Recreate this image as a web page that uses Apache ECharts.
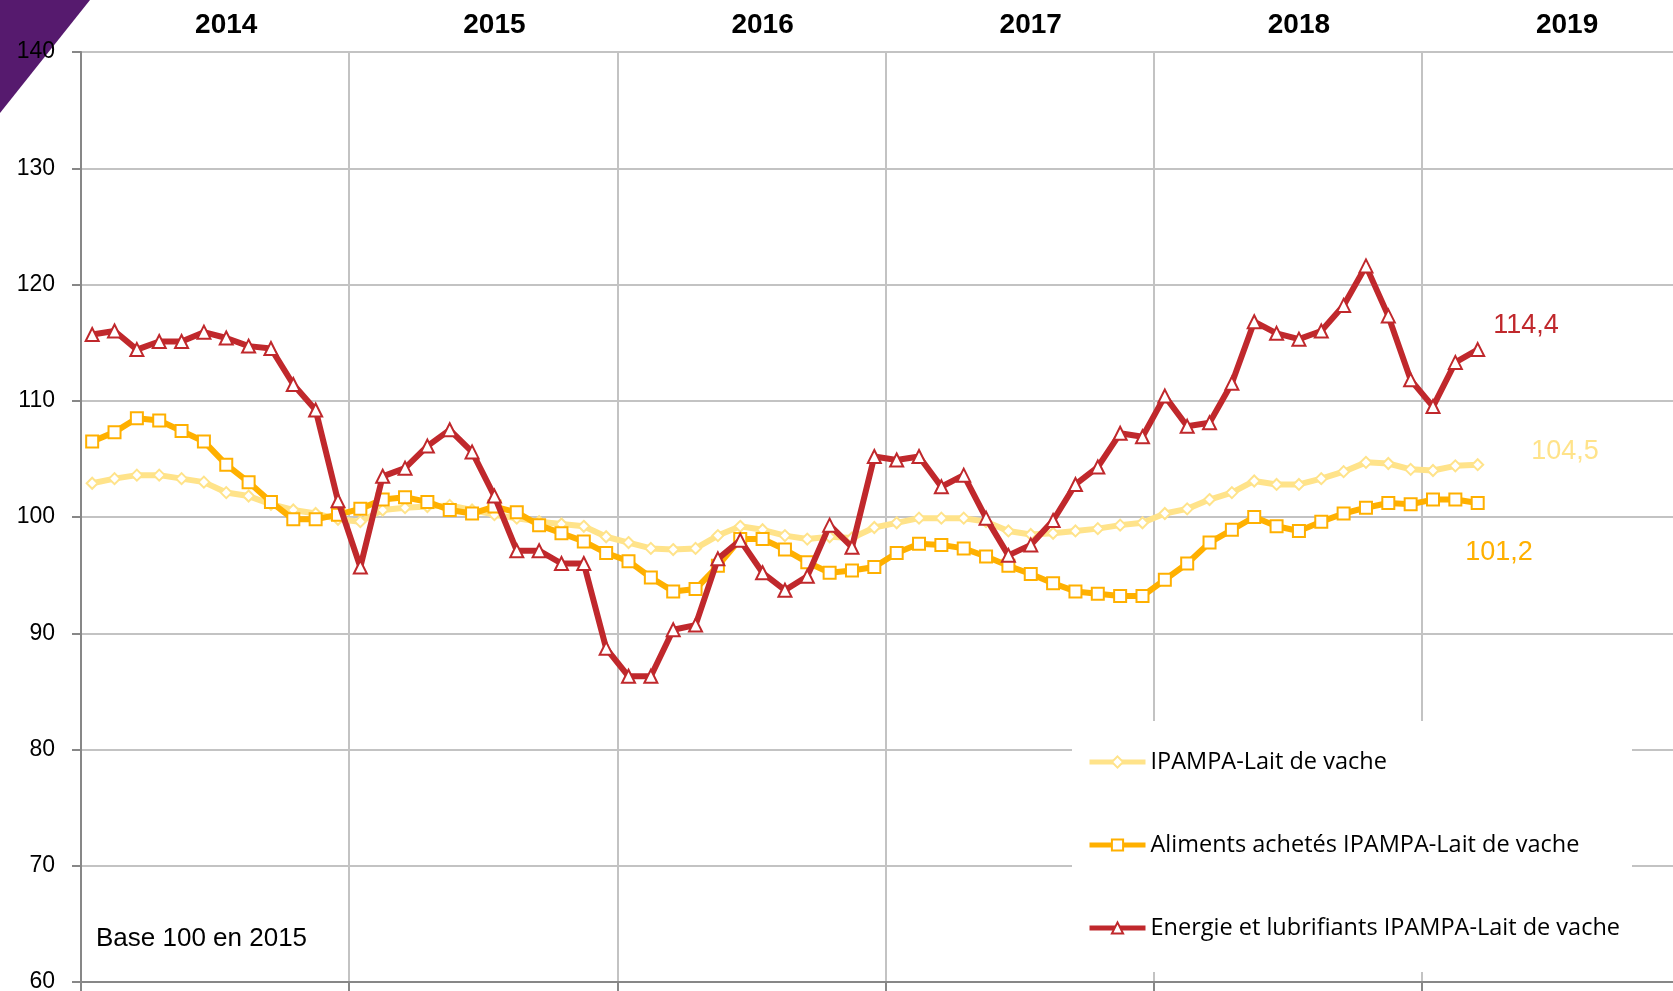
<!DOCTYPE html>
<html>
<head>
<meta charset="utf-8">
<script src="https://cdn.jsdelivr.net/npm/echarts@6/dist/echarts.min.js"></script>
<style>
  html, body { margin: 0; padding: 0; background: #fff; }
  #chart { width: 1673px; height: 991px; }
</style>
</head>
<body>
<div id="chart"></div>
<script>
// years shown on the top axis, one category per month
var years = ['2014', '2015', '2016', '2017', '2018', '2019']
var monthNames = ['01', '02', '03', '04', '05', '06', '07', '08', '09', '10', '11', '12']

var seriesNames = [
  'IPAMPA-Lait de vache',
  'Aliments achetés IPAMPA-Lait de vache',
  'Energie et lubrifiants IPAMPA-Lait de vache'
]

// jan 2014 -> mar 2019, base 100 en 2015
var ipampaLait = [
  102.9, 103.3, 103.6, 103.6, 103.3, 103.0, 102.1, 101.8, 101.1, 100.6, 100.3, 99.8,
  99.6, 100.6, 100.8, 100.9, 101.0, 100.6, 100.2, 99.9, 99.6, 99.4, 99.2, 98.3,
  97.8, 97.3, 97.2, 97.3, 98.4, 99.2, 98.9, 98.4, 98.1, 98.3, 98.2, 99.1,
  99.5, 99.9, 99.9, 99.9, 99.6, 98.8, 98.5, 98.6, 98.8, 99.0, 99.3, 99.5,
  100.3, 100.7, 101.5, 102.1, 103.1, 102.8, 102.8, 103.3, 103.9, 104.7, 104.6, 104.1,
  104.0, 104.4, 104.5
]
var alimentsAchetes = [
  106.5, 107.3, 108.5, 108.3, 107.4, 106.5, 104.5, 103.0, 101.3, 99.8, 99.8, 100.2,
  100.7, 101.5, 101.7, 101.3, 100.6, 100.3, 100.9, 100.4, 99.3, 98.6, 97.9, 96.9,
  96.2, 94.8, 93.6, 93.8, 95.8, 98.1, 98.1, 97.2, 96.1, 95.2, 95.4, 95.7,
  96.9, 97.7, 97.6, 97.3, 96.6, 95.8, 95.1, 94.3, 93.6, 93.4, 93.2, 93.2,
  94.6, 96.0, 97.8, 98.9, 100.0, 99.2, 98.8, 99.6, 100.3, 100.8, 101.2, 101.1,
  101.5, 101.5, 101.2
]
var energieLubrifiants = [
  115.7, 116.0, 114.4, 115.1, 115.1, 115.9, 115.4, 114.7, 114.5, 111.4, 109.2, 101.4,
  95.7, 103.5, 104.2, 106.1, 107.5, 105.6, 101.8, 97.1, 97.1, 96.0, 96.0, 88.7,
  86.3, 86.3, 90.3, 90.7, 96.4, 98.0, 95.2, 93.7, 94.9, 99.3, 97.4, 105.2,
  104.9, 105.2, 102.6, 103.6, 99.9, 96.7, 97.6, 99.7, 102.8, 104.3, 107.2, 106.9,
  110.4, 107.8, 108.1, 111.5, 116.8, 115.8, 115.3, 116.0, 118.2, 121.6, 117.3, 111.8,
  109.5, 113.3, 114.4
]

var yTicks = { min: 60, max: 140, step: 10 }

var months = []
years.forEach(function (y) {
  monthNames.forEach(function (m) { months.push(y + '-' + m) })
})

var colors = ['#ffe38a', '#ffb000', '#c0282c']
var symbols = ['diamond', 'rect', 'triangle']
var symbolSizes = [11, 12, 13]
var values = [ipampaLait, alimentsAchetes, energieLubrifiants]

var lastLabel = function (arr) {
  return arr[arr.length - 1].toFixed(1).replace('.', ',')
}

var chart = echarts.init(document.getElementById('chart'), null, {renderer: 'canvas'})

var series = seriesNames.map(function (name, k) {
  return {
    name: name,
    type: 'line',
    xAxisIndex: 0,
    data: values[k],
    symbol: symbols[k],
    symbolSize: symbolSizes[k],
    showAllSymbol: true,
    z: 2 + k,
    lineStyle: { color: colors[k], width: 6 },
    itemStyle: { color: '#fff', borderColor: colors[k], borderWidth: 2 },
    emphasis: { disabled: true },
    animation: false
  }
})

var option = {
  animation: false,
  backgroundColor: '#fff',
  grid: {
    left: 81,
    top: 52,
    width: 1609,
    height: 930,
    outerBoundsMode: 'none',
    containLabel: false
  },
  legend: {
    data: seriesNames,
    orient: 'vertical',
    left: 1087,
    top: 750,
    padding: 0,
    itemWidth: 56,
    itemHeight: 14,
    itemGap: 59,
    z: 10,
    lineStyle: { width: 5 },
    textStyle: {
      fontFamily: 'Open Sans',
      fontSize: 23.5,
      lineHeight: 24,
      color: '#000'
    }
  },
  xAxis: [{
    type: 'category',
    data: months,
    boundaryGap: true,
    position: 'bottom',
    axisLine: { lineStyle: { color: '#878787', width: 2 } },
    axisTick: {
      show: true,
      length: 9,
      interval: function (i) { return i % 12 === 0 },
      lineStyle: { color: '#878787', width: 2 }
    },
    axisLabel: { show: false },
    splitLine: {
      show: true,
      interval: function (i) { return i % 12 === 0 },
      lineStyle: { color: '#c3c3c3', width: 2 }
    }
  }, {
    type: 'category',
    data: months,
    boundaryGap: true,
    position: 'top',
    axisLine: { show: false },
    axisTick: { show: false },
    splitLine: { show: false },
    axisLabel: {
      interval: function (i) { return i % 12 === 6 },
      formatter: function (v) { return v.slice(0, 4) },
      margin: 13,
      fontFamily: 'Liberation Sans',
      fontWeight: 'bold',
      fontSize: 28,
      color: '#000'
    }
  }],
  yAxis: {
    type: 'value',
    min: yTicks.min,
    max: yTicks.max,
    interval: yTicks.step,
    axisLine: { show: true, lineStyle: { color: '#878787', width: 2 } },
    axisTick: { show: true, length: 9, lineStyle: { color: '#878787', width: 2 } },
    axisLabel: {
      margin: 26,
      fontFamily: 'Liberation Sans',
      fontSize: 23,
      color: '#000'
    },
    splitLine: { lineStyle: { color: '#c3c3c3', width: 2 } }
  },
  graphic: [{
    type: 'polygon',
    z: -1,
    shape: { points: [[0, 0], [90, 0], [0, 113]] },
    style: { fill: '#561a6e' }
  }, {
    type: 'rect',
    z: 1,
    shape: { x: 1072, y: 721, width: 560, height: 251 },
    style: { fill: '#fff' }
  }, {
    type: 'text',
    z: 5,
    left: 96,
    top: 926,
    style: { text: 'Base 100 en 2015', font: '26px "Liberation Sans"', fill: '#000' }
  }, {
    type: 'text',
    z: 5,
    x: 1526,
    y: 326,
    style: { text: lastLabel(energieLubrifiants), font: '27px "Liberation Sans"', fill: colors[2], align: 'center', verticalAlign: 'middle' }
  }, {
    type: 'text',
    z: 5,
    x: 1565,
    y: 452,
    style: { text: lastLabel(ipampaLait), font: '27px "Liberation Sans"', fill: colors[0], align: 'center', verticalAlign: 'middle' }
  }, {
    type: 'text',
    z: 5,
    x: 1499,
    y: 553,
    style: { text: lastLabel(alimentsAchetes), font: '27px "Liberation Sans"', fill: colors[1], align: 'center', verticalAlign: 'middle' }
  }],
  series: series
}

chart.setOption(option, true)
</script>
</body>
</html>
